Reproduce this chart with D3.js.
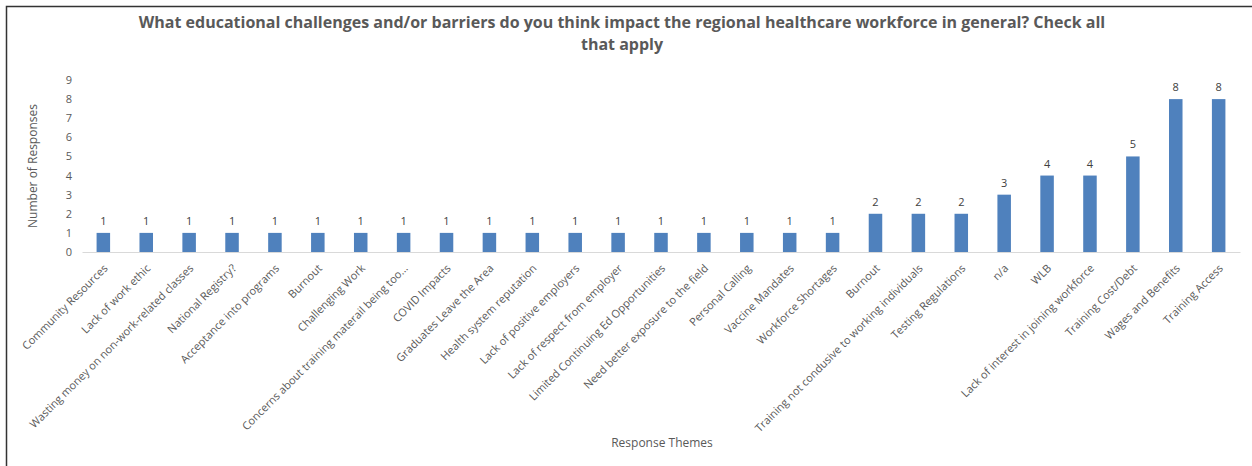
<!DOCTYPE html>
<html><head><meta charset="utf-8">
<script src="https://cdn.jsdelivr.net/npm/d3@7"></script>
<style>body{margin:0;background:#fff}svg{display:block}text{font-family:"Open Sans",sans-serif}</style>
</head><body><svg id="c" width="1252" height="466"></svg>
<script>
const categories = ["Community Resources","Lack of work ethic","Wasting money on non-work-related classes","National Registry?","Acceptance into programs","Burnout","Challenging Work","Concerns about training materail being too...","COVID Impacts","Graduates Leave the Area","Health system reputation","Lack of positive employers","Lack of respect from employer","Limited Continuing Ed Opportunities","Need better exposure to the field","Personal Calling","Vaccine Mandates","Workforce Shortages","Burnout","Training not condusive to working individuals","Testing Regulations","n/a","WLB","Lack of interest in joining workforce","Training Cost/Debt","Wages and Benefits","Training Access"];
const values = [1,1,1,1,1,1,1,1,1,1,1,1,1,1,1,1,1,1,2,2,2,3,4,4,5,8,8];
const yTicks = [0,1,2,3,4,5,6,7,8,9];
const titleLines = ["What educational challenges and/or barriers do you think impact the regional healthcare workforce in general? Check all","that apply"];

const svg = d3.select("#c");
svg.append("rect").attr("x",6.5).attr("y",6.5).attr("width",1260).attr("height",470).attr("fill","none").attr("stroke","#333").attr("stroke-width",1.5);

const x = d3.scaleBand().domain(d3.range(categories.length)).range([82,1240]).paddingInner(0.685).paddingOuter(0.34);
const y = d3.scaleLinear().domain([0,9]).range([252,80]);

const gray = "#595959";
// title
svg.append("g").selectAll("text").data(titleLines).join("text")
  .attr("x",622).attr("y",(d,i)=>28+i*22).attr("text-anchor","middle")
  .attr("font-size",16).attr("font-weight","bold").attr("fill",gray).text(d=>d);

// y axis
const ya = svg.append("g").attr("transform","translate(82,0)").call(d3.axisLeft(y).tickValues(yTicks).tickSize(0).tickPadding(10));
ya.select(".domain").remove();
ya.selectAll("text").attr("font-size",11).attr("fill",gray).style("font-family","'Open Sans',sans-serif");

// x axis
const xa = svg.append("g").attr("transform","translate(0,252)").call(d3.axisBottom(x).tickSize(0).tickFormat(i=>categories[i]));
xa.select(".domain").attr("stroke","#d9d9d9");
xa.selectAll("text").attr("font-size",11).attr("fill",gray).style("font-family","'Open Sans',sans-serif")
  .attr("text-anchor","end").attr("dy",null).attr("y",0)
  .attr("transform","translate(5,17) rotate(-45)");

// bars
svg.append("g").selectAll("rect").data(values).join("rect")
  .attr("x",(d,i)=>x(i)).attr("y",d=>y(d)).attr("width",x.bandwidth()).attr("height",d=>y(0)-y(d)).attr("fill","#4F81BD");
svg.append("g").selectAll("text").data(values).join("text")
  .attr("x",(d,i)=>x(i)+x.bandwidth()/2).attr("y",d=>y(d)-8).attr("text-anchor","middle")
  .attr("font-size",11).attr("fill","#404040").text(d=>d);

// axis titles
svg.append("text").attr("transform","translate(37,166) rotate(-90)").attr("text-anchor","middle").attr("font-size",12).attr("fill",gray).text("Number of Responses");
svg.append("text").attr("x",662).attr("y",447).attr("text-anchor","middle").attr("font-size",12).attr("fill",gray).text("Response Themes");
</script></body></html>
